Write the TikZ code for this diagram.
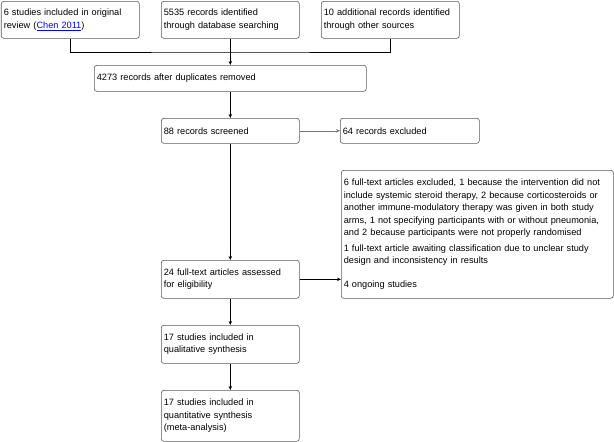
\documentclass[tikz,border=0pt]{standalone}
\usepackage{fontspec}
\setmainfont{Liberation Sans}
\usetikzlibrary{arrows.meta}
\tikzset{
  box/.style={draw=black!65, line width=0.6pt, rounded corners=2.5pt, anchor=north west,
    align=left, inner xsep=2.5pt, inner ysep=3pt, font=\fontsize{9.2}{12.5}\selectfont},
  arr/.style={-{Stealth[length=4pt,width=3.5pt]}, line width=0.6pt}
}
\begin{document}
\begin{tikzpicture}[x=1pt,y=-1pt]
    \useasboundingbox (0,0) rectangle (614,442);

    % Identification
    \node[box, text width=133pt, minimum height=37pt] (orig) at (1,1)
        {6 studies included in original\\review (\textcolor{blue}{\underline{Chen 2011}})};
    \node[box, text width=133pt, minimum height=37pt] (dbase) at (161,1)
        {5535 records identified\\through database searching};
    \node[box, text width=133pt, minimum height=37pt] (other) at (321,1)
        {10 additional records identified\\through other sources};
    \node[box, text width=267pt, minimum height=26pt] (dupl) at (94,65)
        {4273 records after duplicates removed};

    % Screening
    \node[box, text width=133pt, minimum height=25pt] (screen) at (161,118)
        {88 records screened};
    \node[box, text width=134pt, minimum height=25pt] (excl) at (340,118)
        {64 records excluded};

    % Eligibility
    \node[box, text width=133pt, minimum height=38pt] (full) at (161,260)
        {24 full-text articles assessed\\for eligibility};
    \node[box, text width=267pt, minimum height=128pt] (fullexcl) at (341,170)
        {6 full-text articles excluded, 1 because the intervention did not\\
         include systemic steroid therapy, 2 because corticosteroids or\\
         another immune-modulatory therapy was given in both study\\
         arms, 1 not specifying participants with or without pneumonia,\\
         and 2 because participants were not properly randomised\\[3pt]
         1 full-text article awaiting classification due to unclear study\\
         design and inconsistency in results\\[11pt]
         4 ongoing studies};

    % Included
    \node[box, text width=133pt, minimum height=38pt] (qual) at (161,325)
        {17 studies included in\\qualitative synthesis};
    \node[box, text width=133pt, minimum height=51pt] (quant) at (161,390)
        {17 studies included in\\quantitative synthesis\\(meta-analysis)};

    % Connectors
    \coordinate (merge) at (dbase.south |- 0,52);
    \draw[line width=0.6pt] (orig.south) |- (merge) -| (other.south);
    \draw[arr] (dbase.south) -- (dupl.north);
    \draw[arr] (dupl.south) -- (screen.north);
    \draw[arr, draw=black!55] (screen.east) -- (excl.west);
    \draw[arr] (screen.south) -- (full.north);
    \draw[arr] (full.east) -- (full.east -| fullexcl.west);
    \draw[arr] (full.south) -- (qual.north);
    \draw[arr] (qual.south) -- (quant.north);
\end{tikzpicture}
\end{document}
